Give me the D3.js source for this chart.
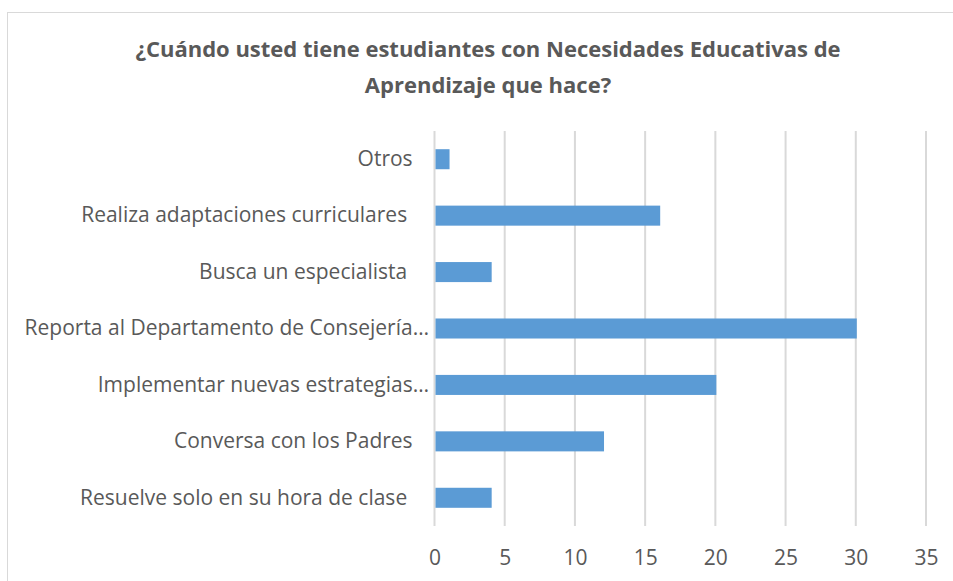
<!DOCTYPE html>
<html lang="es">
<head>
<meta charset="utf-8">
<title>Necesidades Educativas</title>
<script src="https://cdn.jsdelivr.net/npm/d3@7"></script>
<style>
  body { margin: 0; background: #fff; }
  svg text { font-family: "Open Sans", "Noto Sans", sans-serif; fill: #595959; white-space: pre; }
</style>
</head>
<body>
<script>
// categories from top to bottom, trailing spaces kept as in the original
var categories = [
  "Otros   ",
  "Realiza adaptaciones curriculares    ",
  "Busca un especialista    ",
  "Reporta al Departamento de Consejería…",
  "Implementar nuevas estrategias…",
  "Conversa con los Padres   ",
  "Resuelve solo en su hora de clase    "
];
var values = [1, 16, 4, 30, 20, 12, 4];
var ticks = [0, 5, 10, 15, 20, 25, 30, 35];
var titleLines = [
  "¿Cuándo usted tiene estudiantes con Necesidades Educativas de",
  "Aprendizaje que hace?"
];

var w = 953, h = 581;
var margin = {top: 131, right: 27, bottom: 55, left: 434.5};

var svg = d3.select("body").append("svg")
  .attr("width", w)
  .attr("height", h);

// chart border
svg.append("rect")
  .attr("x", 7.5).attr("y", 12.5)
  .attr("width", w).attr("height", h)
  .attr("fill", "none")
  .attr("stroke", "#d9d9d9");

// title
svg.selectAll(".title")
  .data(titleLines)
  .enter().append("text")
  .attr("class", "title")
  .attr("x", 488)
  .attr("y", function(d, i) { return 57 + i * 36; })
  .attr("text-anchor", "middle")
  .style("font-size", "22px")
  .style("font-weight", "bold")
  .text(function(d) { return d; });

var x = d3.scaleLinear()
  .domain([0, 35])
  .range([margin.left, w - margin.right]);

var y = d3.scaleBand()
  .domain(categories)
  .range([margin.top, h - margin.bottom])
  .paddingInner(0.645)
  .paddingOuter(0.3225);

// gridlines
svg.selectAll(".grid")
  .data(ticks)
  .enter().append("line")
  .attr("class", "grid")
  .attr("x1", function(d) { return x(d); })
  .attr("x2", function(d) { return x(d); })
  .attr("y1", margin.top)
  .attr("y2", h - margin.bottom)
  .attr("stroke", "#d9d9d9")
  .attr("stroke-width", 2);

// bars
svg.selectAll(".bar")
  .data(values)
  .enter().append("rect")
  .attr("class", "bar")
  .attr("x", x(0) + 1)
  .attr("y", function(d, i) { return y(categories[i]); })
  .attr("width", function(d) { return x(d) - x(0); })
  .attr("height", y.bandwidth())
  .attr("fill", "#5b9bd5");

// x tick labels
var xAxis = d3.axisBottom(x).tickValues(ticks).tickSize(0).tickPadding(0);
var gx = svg.append("g")
  .attr("transform", "translate(0," + (h - margin.bottom + 39) + ")")
  .call(xAxis);
gx.select(".domain").remove();
gx.selectAll("text").style("font-size", "21px").attr("dy", "0");

// category labels
var yAxis = d3.axisLeft(y).tickSize(0).tickPadding(5.5);
var gy = svg.append("g")
  .attr("transform", "translate(" + margin.left + ",0)")
  .call(yAxis);
gy.select(".domain").remove();
gy.selectAll("text").style("font-size", "21px");
</script>
</body>
</html>
